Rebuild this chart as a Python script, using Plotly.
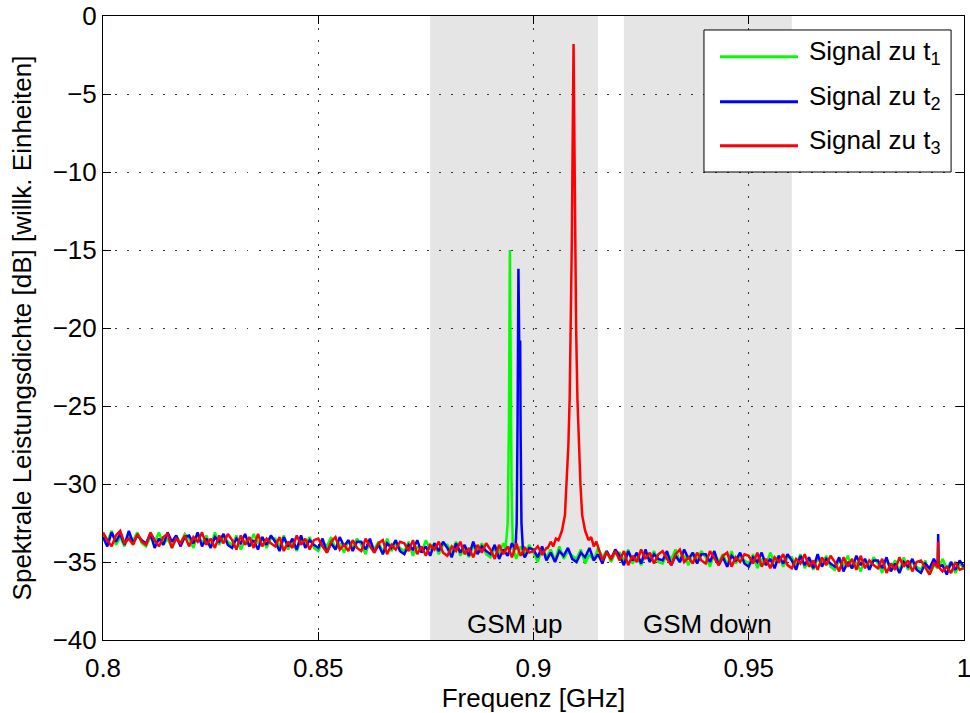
import numpy as np
import plotly.graph_objects as go

# ---------------- data ----------------
freq_grid = np.round(np.linspace(0.8, 1.0, 201), 4)   # GHz, 1 MHz sampling

green_db = [
    -33.2, -33.7, -33.0, -33.9, -33.4, -34.0, -33.3, -33.6, -33.1, -33.8,
    -34.0, -33.4, -33.7, -33.1, -33.9, -33.5, -34.1, -33.3, -33.8, -33.2,
    -33.5, -34.1, -33.2, -33.8, -33.3, -34.0, -33.1, -33.9, -33.4, -33.7,
    -33.9, -33.3, -34.2, -33.6, -34.0, -33.2, -33.8, -33.4, -34.1, -33.5,
    -33.5, -34.0, -33.3, -34.2, -33.7, -34.3, -33.6, -33.9, -33.4, -34.1,
    -34.3, -33.7, -34.0, -33.4, -34.2, -33.8, -34.4, -33.6, -34.1, -33.5,
    -33.9, -34.5, -33.6, -34.2, -33.7, -34.4, -33.5, -34.3, -33.8, -34.1,
    -34.3, -33.7, -34.6, -34.0, -34.4, -33.6, -34.2, -33.8, -34.5, -33.9,
    -33.9, -34.4, -33.7, -34.6, -34.1, -34.7, -34.0, -34.3, -33.8, -34.5,
    -34.7, -34.1, -34.4, -33.8, -34.6, -34.2, -34.8, -34.0, -34.5, -33.9,
    -34.4, -35.0, -34.1, -34.7, -34.2, -34.9, -34.0, -34.8, -34.3, -34.6,
    -34.8, -34.2, -35.1, -34.5, -34.9, -34.1, -34.7, -34.3, -35.0, -34.4,
    -34.4, -34.9, -34.2, -35.1, -34.6, -35.2, -34.5, -34.8, -34.3, -35.0,
    -35.1, -34.5, -34.8, -34.2, -35.0, -34.6, -35.2, -34.4, -34.9, -34.3,
    -34.7, -35.3, -34.4, -35.0, -34.5, -35.2, -34.3, -35.1, -34.6, -34.9,
    -35.1, -34.5, -35.4, -34.8, -35.2, -34.4, -35.0, -34.6, -35.3, -34.7,
    -34.7, -35.2, -34.5, -35.4, -34.9, -35.5, -34.8, -35.1, -34.6, -35.3,
    -35.5, -34.9, -35.2, -34.6, -35.4, -35.0, -35.6, -34.8, -35.3, -34.7,
    -35.1, -35.7, -34.8, -35.4, -34.9, -35.6, -34.7, -35.5, -35.0, -35.3,
    -35.5, -34.9, -35.8, -35.2, -35.6, -34.8, -35.4, -35.0, -35.7, -35.1,
    -35.4,
]

blue_db = [
    -33.4, -34.0, -33.1, -33.7, -33.2, -33.9, -33.0, -33.8, -33.3, -33.6,
    -33.8, -33.2, -34.1, -33.5, -33.9, -33.1, -33.7, -33.3, -34.0, -33.4,
    -33.3, -33.8, -33.1, -34.0, -33.5, -34.1, -33.4, -33.7, -33.2, -33.9,
    -34.1, -33.5, -33.8, -33.2, -34.0, -33.6, -34.2, -33.4, -33.9, -33.3,
    -33.7, -34.3, -33.4, -34.0, -33.5, -34.2, -33.3, -34.1, -33.6, -33.9,
    -34.1, -33.5, -34.4, -33.8, -34.2, -33.4, -34.0, -33.6, -34.3, -33.7,
    -33.7, -34.2, -33.5, -34.4, -33.9, -34.5, -33.8, -34.1, -33.6, -34.3,
    -34.5, -33.9, -34.2, -33.6, -34.4, -34.0, -34.6, -33.8, -34.3, -33.7,
    -34.1, -34.7, -33.8, -34.4, -33.9, -34.6, -33.7, -34.5, -34.0, -34.3,
    -34.5, -33.9, -34.8, -34.2, -34.6, -33.8, -34.4, -34.0, -34.7, -34.1,
    -34.2, -34.7, -34.0, -34.9, -34.4, -35.0, -34.3, -34.6, -34.1, -34.8,
    -35.0, -34.4, -34.7, -34.1, -34.9, -34.5, -35.1, -34.3, -34.8, -34.2,
    -34.6, -35.2, -34.3, -34.9, -34.4, -35.1, -34.2, -35.0, -34.5, -34.8,
    -34.9, -34.3, -35.2, -34.6, -35.0, -34.2, -34.8, -34.4, -35.1, -34.5,
    -34.5, -35.0, -34.3, -35.2, -34.7, -35.3, -34.6, -34.9, -34.4, -35.1,
    -35.3, -34.7, -35.0, -34.4, -35.2, -34.8, -35.4, -34.6, -35.1, -34.5,
    -34.9, -35.5, -34.6, -35.2, -34.7, -35.4, -34.5, -35.3, -34.8, -35.1,
    -35.3, -34.7, -35.6, -35.0, -35.4, -34.6, -35.2, -34.8, -35.5, -34.9,
    -34.9, -35.4, -34.7, -35.6, -35.1, -35.7, -35.0, -35.3, -34.8, -35.5,
    -35.7, -35.1, -35.4, -34.8, -35.6, -35.2, -35.8, -35.0, -35.5, -34.9,
    -35.3,
]

red_db = [
    -33.1, -33.6, -34.0, -33.3, -33.0, -33.8, -33.5, -33.9, -33.2, -33.7,
    -33.9, -33.1, -33.6, -34.0, -33.4, -33.2, -34.1, -33.5, -33.8, -33.3,
    -34.0, -33.4, -33.7, -33.1, -33.9, -33.5, -34.1, -33.3, -33.8, -33.2,
    -33.6, -34.2, -33.3, -33.9, -33.4, -34.1, -33.2, -34.0, -33.5, -33.8,
    -34.0, -33.4, -34.3, -33.7, -34.1, -33.3, -33.9, -33.5, -34.2, -33.6,
    -33.5, -34.0, -34.4, -33.7, -33.4, -34.2, -33.9, -34.3, -33.6, -34.1,
    -34.3, -33.5, -34.0, -34.4, -33.8, -33.6, -34.5, -33.9, -34.2, -33.7,
    -33.8, -34.3, -33.6, -34.5, -34.0, -34.6, -33.9, -34.2, -33.7, -34.4,
    -34.6, -34.0, -34.3, -33.7, -34.5, -34.1, -34.7, -33.9, -34.4, -33.8,
    -34.2, -34.8, -33.9, -34.5, -34.0, -34.7, -33.8, -34.6, -34.1, -34.4,
    -34.3, -34.0, -34.5, -34.1, -33.9, -33.6, -33.2, -32.5, -28.0, -10.0,
    -29.0, -32.0, -33.0, -33.5, -33.9, -34.3, -34.9, -34.4, -34.8, -34.3,
    -34.9, -34.3, -35.2, -34.6, -35.0, -34.2, -34.8, -34.4, -35.1, -34.5,
    -34.3, -34.8, -35.2, -34.5, -34.2, -35.0, -34.7, -35.1, -34.4, -34.9,
    -35.1, -34.3, -34.8, -35.2, -34.6, -34.4, -35.3, -34.7, -35.0, -34.5,
    -34.6, -35.1, -34.4, -35.3, -34.8, -35.4, -34.7, -35.0, -34.5, -35.2,
    -35.4, -34.8, -35.1, -34.5, -35.3, -34.9, -35.5, -34.7, -35.2, -34.6,
    -35.0, -35.6, -34.7, -35.3, -34.8, -35.5, -34.6, -35.4, -34.9, -35.2,
    -35.4, -34.8, -35.7, -35.1, -35.5, -34.7, -35.3, -34.9, -35.6, -35.0,
    -34.9, -35.4, -35.8, -35.1, -34.8, -35.6, -35.3, -35.7, -35.0, -35.5,
    -35.4,
]

# narrow carriers (finer sampling around the peaks)
green_peak_f = [0.8935, 0.8940, 0.8943, 0.8945, 0.8947, 0.8949, 0.8952]
green_peak_db = [-34.2, -32.5, -26.0, -15.0, -22.0, -30.0, -34.1]

blue_peak_f = [0.8958, 0.8961, 0.8963, 0.8965, 0.8967, 0.8969, 0.8970, 0.8972, 0.8976]
blue_peak_db = [-34.2, -32.5, -26.0, -16.2, -21.5, -20.8, -26.5, -32.5, -34.5]

red_peak_f = [0.9033, 0.9040, 0.9046, 0.9052, 0.9058, 0.9066, 0.9073, 0.9077,
              0.9081, 0.9084, 0.9087, 0.9089, 0.9091, 0.9093, 0.9095, 0.9097,
              0.9099, 0.9102, 0.9105, 0.9109, 0.9113, 0.9120, 0.9128, 0.9134,
              0.9140, 0.9146, 0.9153]
red_peak_db = [-34.1, -33.7, -34.0, -33.5, -33.6, -33.0, -32.0, -30.0,
               -27.5, -24.5, -20.0, -14.5, -8.0, -1.8, -8.0, -14.5,
               -20.0, -24.5, -27.5, -30.0, -32.0, -33.0, -33.6, -33.4,
               -34.0, -33.7, -34.3]

spike_f = [0.9939, 0.9940, 0.9941]
spike_green_db = [-35.4, -34.0, -35.4]
spike_blue_db = [-35.3, -33.2, -35.3]
spike_red_db = [-35.3, -33.7, -35.3]

bands = [("GSM up", 0.876, 0.915), ("GSM down", 0.921, 0.960)]
series_names = ["Signal zu t<sub>1</sub>", "Signal zu t<sub>2</sub>", "Signal zu t<sub>3</sub>"]
series_colors = ["#00ff00", "#0000ff", "#ff0000"]
x_tickvals = [0.8, 0.85, 0.9, 0.95, 1.0]
x_ticktext = ["0.8", "0.85", "0.9", "0.95", "1"]
y_tickvals = [0, -5, -10, -15, -20, -25, -30, -35, -40]


def merge(grid_f, grid_db, *peaks):
    f = list(grid_f)
    d = list(grid_db)
    for pf, pd in peaks:
        lo, hi = min(pf), max(pf)
        keep = [(a, b) for a, b in zip(f, d) if a < lo or a > hi]
        f = [a for a, _ in keep] + list(pf)
        d = [b for _, b in keep] + list(pd)
        order = np.argsort(f)
        f = [f[i] for i in order]
        d = [d[i] for i in order]
    return f, d


assert len(green_db) == len(blue_db) == len(red_db) == len(freq_grid)

series = [
    merge(freq_grid, green_db, (green_peak_f, green_peak_db), (spike_f, spike_green_db)),
    merge(freq_grid, blue_db, (blue_peak_f, blue_peak_db), (spike_f, spike_blue_db)),
    merge(freq_grid, red_db, (red_peak_f, red_peak_db), (spike_f, spike_red_db)),
]

fig = go.Figure()
for (f, d), name, col in zip(series, series_names, series_colors):
    fig.add_trace(go.Scatter(x=f, y=d, mode="lines", name=name,
                             line=dict(color=col, width=2.5), showlegend=False))

# shaded GSM bands + labels
for label, lo, hi in bands:
    fig.add_shape(type="rect", xref="x", yref="y", x0=lo, x1=hi, y0=-40, y1=0,
                  fillcolor="#e5e5e5", line_width=0, layer="below")
    fig.add_annotation(x=(lo + hi) / 2, y=-39.0, xref="x", yref="y", text=label,
                       showarrow=False, xanchor="center", yanchor="middle",
                       font=dict(size=26, color="black"))

# legend box (MATLAB style)
fig.add_shape(type="rect", xref="paper", yref="paper", x0=0.698, x1=0.985,
              y0=0.750, y1=0.9776, fillcolor="white", line=dict(color="black", width=1),
              layer="above")
legend_rows = [0.9348, 0.8627, 0.7921]
for yy, name, col in zip(legend_rows, series_names, series_colors):
    fig.add_shape(type="line", xref="paper", yref="paper", x0=0.7166, x1=0.8072,
                  y0=yy, y1=yy, line=dict(color=col, width=3), layer="above")
    fig.add_annotation(x=0.8177, y=yy + 0.006, xref="paper", yref="paper", text=name,
                       showarrow=False, xanchor="left", yanchor="middle",
                       font=dict(size=26, color="black"))

axis_common = dict(showline=True, linecolor="black", linewidth=1, mirror="ticks",
                   ticks="inside", ticklen=8, tickwidth=1, tickcolor="black",
                   showgrid=True, gridcolor="#333333", gridwidth=1,
                   griddash="1.5px,10.5px", zeroline=False, automargin=False,
                   ticklabeloverflow="allow",
                   tickfont=dict(size=26, color="black"))

fig.update_xaxes(range=[0.8, 1.0], tickvals=x_tickvals, ticktext=x_ticktext,
                 ticklabelstandoff=5,
                 title=dict(text="Frequenz [GHz]", standoff=7,
                            font=dict(size=26, color="black")),
                 **axis_common)
fig.update_yaxes(range=[-40, 0], tickvals=y_tickvals,
                 title=dict(text="Spektrale Leistungsdichte [dB] [willk. Einheiten]",
                            standoff=13, font=dict(size=26, color="black")),
                 **axis_common)

fig.update_layout(
    width=970, height=713,
    margin=dict(l=103, r=6, t=16, b=73),
    paper_bgcolor="white", plot_bgcolor="white",
    font=dict(family="Liberation Sans, Arial, Helvetica, sans-serif", size=26, color="black"),
    showlegend=False,
)

# remove the default 8 px page margin so the 970 x 713 figure fills the window
fig.write_html("out.html", config={"displayModeBar": False},
               post_script="document.body.style.margin='0px';")
